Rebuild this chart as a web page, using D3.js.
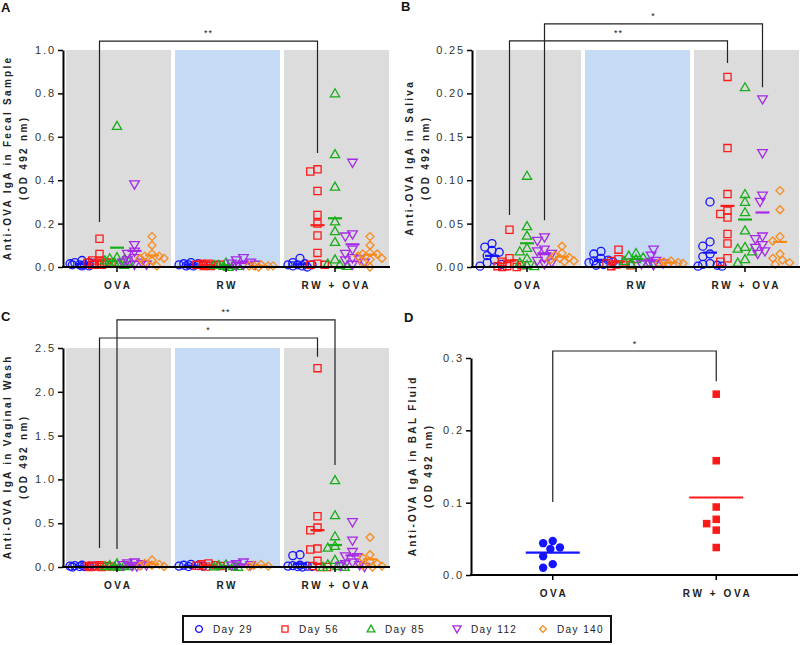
<!DOCTYPE html>
<html><head><meta charset="utf-8">
<script src="https://cdn.jsdelivr.net/npm/d3@7"></script>
<style>
body{margin:0;background:#fff}
svg{display:block}
text{font-family:"Liberation Sans",Arial,sans-serif}
</style>
</head><body>
<svg id="c" width="800" height="645"></svg>
<script>
// ---------------- DATA ----------------
const groups = ["OVA", "RW", "RW + OVA"];
const days = ["Day 29", "Day 56", "Day 85", "Day 112", "Day 140"];
const colors = ["#1414ff", "#ff1a1a", "#1aad1a", "#a52ae6", "#f88a1c"];
const shapes = ["circle", "square", "triangle", "itriangle", "diamond"];

// Panel A: fecal sample (one array per day within each group)
const fecalOVA = [
  [0.03, 0.02, 0.015, 0.01, 0.01, 0.005, 0.02, 0.01, 0.015, 0.005],
  [0.13, 0.06, 0.03, 0.02, 0.02, 0.01, 0.01, 0.03, 0.01, 0.02],
  [0.65, 0.045, 0.04, 0.035, 0.03, 0.025, 0.02, 0.02, 0.015, 0.01],
  [0.38, 0.10, 0.07, 0.06, 0.04, 0.03, 0.02, 0.02, 0.01, 0.01],
  [0.14, 0.10, 0.06, 0.05, 0.05, 0.04, 0.04, 0.03, 0.02, 0.005]
];
const fecalRW = [
  [0.02, 0.015, 0.01, 0.01, 0.005, 0.005, 0.01, 0.015],
  [0.01, 0.015, 0.005, 0.01, 0.01, 0.005, 0.01, 0.015],
  [0.02, 0.01, 0.005, 0.005, 0.01, 0.0, 0.01],
  [0.04, 0.03, 0.02, 0.015, 0.01, 0.01, 0.005],
  [0.01, 0.005, 0.005, 0.005, 0.0, 0.005]
];
const fecalRWOVA = [
  [0.04, 0.02, 0.015, 0.01, 0.01, 0.005, 0.005, 0.01, 0.0],
  [0.45, 0.44, 0.35, 0.24, 0.20, 0.145, 0.065, 0.015, 0.01, 0.01],
  [0.80, 0.52, 0.37, 0.21, 0.165, 0.115, 0.035, 0.015, 0.01, 0.005],
  [0.48, 0.15, 0.14, 0.08, 0.06, 0.04, 0.035, 0.03, 0.02, 0.01],
  [0.14, 0.10, 0.065, 0.06, 0.06, 0.05, 0.04, 0.035, 0.02, 0.0]
];

// Panel B: saliva
const salivaOVA = [
  [0.027, 0.023, 0.019, 0.017, 0.013, 0.008, 0.005, 0.003, 0.001],
  [0.043, 0.01, 0.006, 0.004, 0.002, 0.001, 0.001, 0.0, 0.0],
  [0.105, 0.047, 0.036, 0.022, 0.018, 0.01, 0.005, 0.002, 0.001],
  [0.034, 0.030, 0.02, 0.018, 0.015, 0.01, 0.007, 0.005, 0.003],
  [0.024, 0.016, 0.013, 0.011, 0.01, 0.008, 0.007, 0.006]
];
const salivaRW = [
  [0.018, 0.015, 0.01, 0.008, 0.007, 0.006, 0.005, 0.003, 0.002],
  [0.02, 0.009, 0.007, 0.005, 0.004, 0.003, 0.002, 0.001],
  [0.016, 0.013, 0.011, 0.009, 0.007, 0.005, 0.003],
  [0.02, 0.013, 0.007, 0.005, 0.004, 0.003, 0.002],
  [0.007, 0.006, 0.005, 0.005, 0.004, 0.004]
];
const salivaRWOVA = [
  [0.075, 0.029, 0.024, 0.015, 0.012, 0.004, 0.003, 0.002, 0.001, 0.001],
  [0.219, 0.137, 0.084, 0.065, 0.061, 0.057, 0.038, 0.027, 0.01, 0.006],
  [0.207, 0.084, 0.075, 0.063, 0.042, 0.023, 0.021, 0.018, 0.009, 0.005],
  [0.193, 0.131, 0.082, 0.075, 0.035, 0.032, 0.025, 0.022, 0.018, 0.015],
  [0.088, 0.066, 0.035, 0.03, 0.015, 0.01, 0.008, 0.005, 0.003]
];

// Panel C: vaginal wash
const vaginalOVA = [
  [0.02, 0.015, 0.01, 0.01, 0.005, 0.005, 0.0, 0.01],
  [0.02, 0.015, 0.01, 0.005, 0.005, 0.0, 0.0, 0.01],
  [0.04, 0.02, 0.015, 0.01, 0.005, 0.0, 0.01],
  [0.05, 0.04, 0.03, 0.02, 0.015, 0.01, 0.005],
  [0.08, 0.04, 0.03, 0.02, 0.01, 0.005]
];
const vaginalRW = [
  [0.03, 0.02, 0.015, 0.01, 0.005, 0.01],
  [0.04, 0.03, 0.02, 0.015, 0.01, 0.005],
  [0.03, 0.02, 0.01, 0.005, 0.0],
  [0.05, 0.03, 0.02, 0.015],
  [0.03, 0.02, 0.01, 0.005]
];
const vaginalRWOVA = [
  [0.14, 0.13, 0.02, 0.015, 0.01, 0.005, 0.005, 0.0, 0.01],
  [2.27, 0.58, 0.45, 0.42, 0.21, 0.20, 0.07, 0.01, 0.0, 0.0],
  [0.99, 0.59, 0.35, 0.24, 0.22, 0.08, 0.03, 0.01, 0.0, 0.0],
  [0.51, 0.30, 0.17, 0.12, 0.11, 0.05, 0.03, 0.02, 0.01, 0.0],
  [0.34, 0.14, 0.10, 0.06, 0.04, 0.02, 0.01, 0.0]
];

// Panel D: BAL fluid
const balGroups = ["OVA", "RW + OVA"];
const balOVA = [0.047, 0.044, 0.038, 0.036, 0.026, 0.015, 0.01];
const balRWOVA = [0.25, 0.158, 0.094, 0.077, 0.071, 0.062, 0.038];

// axis ticks
const ticksA = [0, 0.2, 0.4, 0.6, 0.8, 1.0];
const ticksB = [0, 0.05, 0.10, 0.15, 0.20, 0.25];
const ticksC = [0, 0.5, 1.0, 1.5, 2.0, 2.5];
const ticksD = [0, 0.1, 0.2, 0.3];

// significance brackets: [fromGroup, fromDay, toGroup, toDay, barLevel, leftEnd, rightEnd, label]
const sigA = [[0, 1, 2, 1, 1.041, 0.207, 0.525, "**"]];
const sigB = [[0, 1, 2, 1, 0.2604, 0.060, 0.235, "**"], [0, 3, 2, 3, 0.280, 0.054, 0.207, "*"]];
const sigC = [[0, 1, 2, 1, 2.614, 0.217, 2.40, "*"], [0, 2, 2, 2, 2.82, 0.205, 1.164, "**"]];
const sigD = [[0, 1, 0.3097, 0.101, 0.268, "*"]];

// ---------------- DRAWING ----------------
const svg = d3.select("#c");
const FONT = '"Liberation Sans",Arial,sans-serif';

function symPath(kind, s) {
  s = s || 1;
  switch (kind) {
    case "circle": { const r = 4 * s; return `M${r},0A${r},${r} 0 1,1 ${-r},0A${r},${r} 0 1,1 ${r},0Z`; }
    case "square": { const h = 3.6 * s; return `M${-h},${-h}H${h}V${h}H${-h}Z`; }
    case "triangle": return `M0,${-4.6 * s}L${4.6 * s},${3.4 * s}L${-4.6 * s},${3.4 * s}Z`;
    case "itriangle": return `M0,${4.6 * s}L${4.8 * s},${-3.6 * s}L${-4.8 * s},${-3.6 * s}Z`;
    case "diamond": return `M0,${-4 * s}L${4 * s},0L0,${4 * s}L${-4 * s},0Z`;
  }
}

function swarm(vals, cx, y, minD) {
  const pts = vals.map((v, i) => ({ v, py: y(v) })).sort((a, b) => a.py - b.py);
  const cands = [0];
  for (let k = 1; k <= 5; k++) cands.push(-k * 2.4, k * 2.4);
  const placed = [];
  pts.forEach(p => {
    let best = 0, bestD = -1;
    for (const o of cands) {
      let md = Infinity;
      for (const q of placed) {
        const d = Math.hypot(cx + o - q.px, p.py - q.py);
        if (d < md) md = d;
      }
      if (md >= minD) { best = o; bestD = md; break; }
      if (md > bestD) { bestD = md; best = o; }
    }
    p.px = cx + best;
    placed.push(p);
  });
  return placed;
}

function spacedText(g, txt, x, y, opts) {
  const ls = opts.ls || 0;
  const t = g.append("text")
    .attr("x", x).attr("y", y)
    .attr("font-size", opts.size)
    .attr("font-weight", opts.weight || "normal")
    .attr("fill", opts.fill || "#222")
    .attr("letter-spacing", ls)
    .attr("text-anchor", opts.anchor || "middle")
    .text(txt);
  if (opts.anchor === "end") t.attr("dx", ls);
  else if (!opts.anchor || opts.anchor === "middle") t.attr("dx", ls / 2);
  if (opts.dy) t.attr("dy", opts.dy);
  return t;
}

function panelLetter(letter, x, y) {
  svg.append("text").attr("x", x).attr("y", y).attr("font-size", 13)
    .attr("font-weight", "bold").attr("fill", "#111").text(letter);
}

function yTitle(lines, xs, cy) {
  lines.forEach((ln, i) => {
    const g = svg.append("g").attr("transform", `translate(${xs[i]},${cy}) rotate(-90)`);
    spacedText(g, ln, 0, 0, { size: 10, weight: "bold", ls: 2.3, fill: "#222" });
  });
}

function drawGroupedPanel(cfg) {
  const { plotL, plotR, axisX, top, bottom, yMax, ticks, fmt, data, sig } = cfg;
  const y = d3.scaleLinear().domain([0, yMax]).range([bottom, top]);
  const band = d3.scaleBand().domain(groups).range([plotL, plotR]).paddingInner(4 / 109).paddingOuter(0);
  const colX = (gi, di) => {
    const b = band(groups[gi]);
    return d3.scalePoint().domain(days).range([b + 16, b + 86])(days[di]);
  };
  const g = svg.append("g");
  // backgrounds
  groups.forEach((gr, gi) => {
    g.append("rect").attr("x", band(gr)).attr("y", top)
      .attr("width", band.bandwidth()).attr("height", bottom - top)
      .attr("fill", gi === 1 ? "#c5dbf5" : "#dcdcdc");
  });
  // y axis
  const ya = g.append("g").attr("transform", `translate(${axisX},0)`)
    .call(d3.axisLeft(y).tickValues(ticks).tickFormat(d3.format(fmt)).tickSize(5).tickPadding(4).tickSizeOuter(0));
  ya.select(".domain").attr("stroke", "#000").attr("stroke-width", 2);
  ya.selectAll(".tick line").attr("stroke", "#000").attr("stroke-width", 1.5);
  ya.selectAll(".tick text").attr("font-family", FONT).attr("font-size", 11)
    .attr("fill", "#333").attr("letter-spacing", 1.8).attr("dx", 1.8);
  // points
  const sets = [data[0], data[1], data[2]];
  sets.forEach((grp, gi) => {
    grp.forEach((vals, di) => {
      const cx = colX(gi, di);
      const pts = swarm(vals, cx, y, 6.5);
      g.append("g").selectAll("path").data(pts).join("path")
        .attr("d", symPath(shapes[di]))
        .attr("transform", p => `translate(${p.px},${p.py})`)
        .attr("fill", "none").attr("stroke", colors[di]).attr("stroke-width", 1.3);
      const m = d3.mean(vals);
      g.append("line").attr("x1", cx - 7).attr("x2", cx + 7)
        .attr("y1", y(m)).attr("y2", y(m))
        .attr("stroke", colors[di]).attr("stroke-width", 2.2);
    });
  });
  // x axis
  const centers = groups.map((gr, gi) => (colX(gi, 0) + colX(gi, 4)) / 2);
  g.append("line").attr("x1", axisX - 1).attr("x2", plotR + 1).attr("y1", bottom).attr("y2", bottom)
    .attr("stroke", "#000").attr("stroke-width", 2);
  groups.forEach((gr, gi) => {
    g.append("line").attr("x1", centers[gi]).attr("x2", centers[gi])
      .attr("y1", bottom).attr("y2", bottom + 5).attr("stroke", "#000").attr("stroke-width", 1.5);
    spacedText(g, gr, centers[gi], bottom + 22, { size: 10, weight: "bold", ls: 2.6, fill: "#222" });
  });
  // significance brackets
  sig.forEach(s => {
    const [g1, d1, g2, d2, lvl, le, re, lab] = s;
    const x1 = colX(g1, d1), x2 = colX(g2, d2);
    g.append("path")
      .attr("d", `M${x1},${y(le)}V${y(lvl)}H${x2}V${y(re)}`)
      .attr("fill", "none").attr("stroke", "#222").attr("stroke-width", 1.2);
    g.append("text").attr("x", (x1 + x2) / 2).attr("y", y(lvl) - 5)
      .attr("text-anchor", "middle").attr("font-size", 9).attr("fill", "#222")
      .attr("letter-spacing", 1).text(lab);
  });
}

// Panel A
panelLetter("A", 1, 12);
yTitle(["Anti-OVA IgA in Fecal Sample", "(OD 492 nm)"], [11, 27], 159);
drawGroupedPanel({ plotL: 66, plotR: 389, axisX: 63, top: 50, bottom: 267, yMax: 1.0, ticks: ticksA, fmt: ".1f",
  data: [fecalOVA, fecalRW, fecalRWOVA], sig: sigA });

// Panel B
panelLetter("B", 401, 11);
yTitle(["Anti-OVA IgA in Saliva", "(OD 492 nm)"], [413, 429], 159);
drawGroupedPanel({ plotL: 476, plotR: 799, axisX: 472, top: 50, bottom: 267, yMax: 0.25, ticks: ticksB, fmt: ".2f",
  data: [salivaOVA, salivaRW, salivaRWOVA], sig: sigB });

// Panel C
panelLetter("C", 1, 321);
yTitle(["Anti-OVA IgA in Vaginal Wash", "(OD 492 nm)"], [11, 27], 458);
drawGroupedPanel({ plotL: 66, plotR: 389, axisX: 63, top: 348, bottom: 567, yMax: 2.5, ticks: ticksC, fmt: ".1f",
  data: [vaginalOVA, vaginalRW, vaginalRWOVA], sig: sigC });

// Panel D
panelLetter("D", 404, 322);
yTitle(["Anti-OVA IgA in BAL Fluid", "(OD 492 nm)"], [416, 432], 467);
(function () {
  const axisX = 471, right = 798, top = 358, bottom = 575;
  const y = d3.scaleLinear().domain([0, 0.3]).range([bottom, top]);
  const x = d3.scalePoint().domain(balGroups).range([axisX, right]).padding(0.5);
  const g = svg.append("g");
  const ya = g.append("g").attr("transform", `translate(${axisX},0)`)
    .call(d3.axisLeft(y).tickValues(ticksD).tickFormat(d3.format(".1f")).tickSize(5).tickPadding(4).tickSizeOuter(0));
  ya.select(".domain").attr("stroke", "#000").attr("stroke-width", 2);
  ya.selectAll(".tick line").attr("stroke", "#000").attr("stroke-width", 1.5);
  ya.selectAll(".tick text").attr("font-family", FONT).attr("font-size", 11)
    .attr("fill", "#333").attr("letter-spacing", 1.8).attr("dx", 1.8);
  g.append("line").attr("x1", axisX - 1).attr("x2", right).attr("y1", bottom).attr("y2", bottom)
    .attr("stroke", "#000").attr("stroke-width", 2);
  const sets = [balOVA, balRWOVA];
  const cols = [colors[0], colors[1]];
  sets.forEach((vals, i) => {
    const cx = x(balGroups[i]);
    const pts = swarm(vals, cx, y, 9.5);
    g.append("g").selectAll("path").data(pts).join("path")
      .attr("d", i === 0 ? symPath("circle", 1.05) : symPath("square", 1.05))
      .attr("transform", p => `translate(${p.px},${p.py})`)
      .attr("fill", cols[i]).attr("stroke", "none");
    const m = d3.mean(vals);
    g.append("line").attr("x1", cx - 27).attr("x2", cx + 27).attr("y1", y(m)).attr("y2", y(m))
      .attr("stroke", cols[i]).attr("stroke-width", 2.2);
    g.append("line").attr("x1", cx).attr("x2", cx).attr("y1", bottom).attr("y2", bottom + 5)
      .attr("stroke", "#000").attr("stroke-width", 1.5);
    spacedText(g, balGroups[i], cx, bottom + 22, { size: 10, weight: "bold", ls: 2.6, fill: "#222" });
  });
  sigD.forEach(s => {
    const [a, b, lvl, le, re, lab] = s;
    const x1 = x(balGroups[a]), x2 = x(balGroups[b]);
    g.append("path").attr("d", `M${x1},${y(le)}V${y(lvl)}H${x2}V${y(re)}`)
      .attr("fill", "none").attr("stroke", "#222").attr("stroke-width", 1.2);
    g.append("text").attr("x", (x1 + x2) / 2).attr("y", y(lvl) - 4)
      .attr("text-anchor", "middle").attr("font-size", 9).attr("fill", "#222").text(lab);
  });
})();

// Legend
(function () {
  const lx = 183, ly = 616, lw = 428, lh = 26;
  const g = svg.append("g");
  g.append("rect").attr("x", lx).attr("y", ly).attr("width", lw).attr("height", lh)
    .attr("fill", "#fff").attr("stroke", "#111").attr("stroke-width", 2);
  const item = d3.scalePoint().domain(days).range([lx + 16, lx + 16 + 4 * 86]);
  days.forEach((d, i) => {
    const sx = item(d);
    g.append("path").attr("d", symPath(shapes[i], 0.85))
      .attr("transform", `translate(${sx},${ly + 13})`)
      .attr("fill", "none").attr("stroke", colors[i]).attr("stroke-width", 1.3);
    spacedText(g, d, sx + 14, ly + 17, { size: 10, ls: 1.4, fill: "#222", anchor: "start" });
  });
})();
</script>
</body></html>
